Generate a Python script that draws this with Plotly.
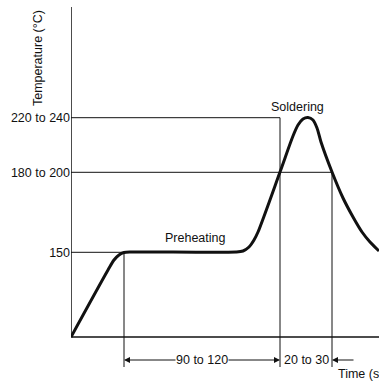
import plotly.graph_objects as go

# ---- data (schematic units: time axis / temperature axis) ----
curve_time = [0, 37, 43, 48, 53, 61, 165, 172, 178, 183, 187, 209, 222, 227, 232, 237,
              242, 246, 250, 261, 272, 282, 291, 299, 308]
curve_temp = [0, 67, 77, 82, 84.5, 85, 85, 86, 90, 97, 105, 165, 201, 212, 218, 219.5,
              217, 209, 195, 165, 139, 120, 105, 95, 86]

temp_levels = [84.7, 164.7, 219.3]
temp_labels = ["150", "180 to 200", "220 to 240"]

time_marks = [53, 209, 261]          # preheat start, soldering start, soldering end
line_ends = [53, 261, 209]           # where each temperature guide meets the curve
duration_labels = ["90 to 120", "20 to 30"]

BLACK = "#111111"
FONT = "Liberation Sans"
FS = 12.5

fig = go.Figure()
fig.add_trace(go.Scatter(
    x=curve_time, y=curve_temp, mode="lines",
    line=dict(color=BLACK, width=3, shape="spline", smoothing=0.8),
    hoverinfo="skip", showlegend=False))

shapes = []
# axes
shapes.append(dict(type="line", xref="x", yref="y", x0=0, x1=308, y0=0, y1=0,
                   line=dict(color=BLACK, width=1.5)))
shapes.append(dict(type="line", xref="x", yref="y", x0=0, x1=0, y0=0, y1=330,
                   line=dict(color=BLACK, width=1.5)))
# horizontal temperature guides
for lvl, xe in zip(temp_levels, line_ends):
    shapes.append(dict(type="line", xref="x", yref="y", x0=0, x1=xe, y0=lvl, y1=lvl,
                       line=dict(color=BLACK, width=1)))
# vertical time guides
vert_tops = [temp_levels[0], temp_levels[2], temp_levels[1]]
for tm, top in zip(time_marks, vert_tops):
    shapes.append(dict(type="line", xref="x", yref="y", x0=tm, x1=tm, y0=top, y1=-30,
                       line=dict(color=BLACK, width=1)))

ann = []
arrow_y = -23
mid1 = (time_marks[0] + time_marks[1]) / 2
# arrows for 90 to 120
for head in (time_marks[0], time_marks[1]):
    ann.append(dict(x=head, y=arrow_y, ax=mid1, ay=arrow_y, xref="x", yref="y",
                    axref="x", ayref="y", text="", showarrow=True, arrowhead=2,
                    arrowsize=1.2, arrowwidth=1, arrowcolor=BLACK, standoff=0))
ann.append(dict(x=mid1, y=arrow_y, xref="x", yref="y", text=duration_labels[0],
                showarrow=False, bgcolor="white", borderpad=0,
                font=dict(size=FS, color=BLACK, family=FONT)))
# 20 to 30
ann.append(dict(x=time_marks[2], y=arrow_y, ax=time_marks[2] + 23, ay=arrow_y,
                xref="x", yref="y", axref="x", ayref="y", text="", showarrow=True,
                arrowhead=2, arrowsize=1.2, arrowwidth=1, arrowcolor=BLACK, standoff=0))
ann.append(dict(x=(time_marks[1] + time_marks[2]) / 2 + 0.5, y=arrow_y, xref="x", yref="y",
                text=duration_labels[1], showarrow=False, bgcolor="white", borderpad=0,
                font=dict(size=FS, color=BLACK, family=FONT)))
# labels
ann.append(dict(x=265, y=-37, xref="x", yref="y", text="Time (s)", showarrow=False,
                xanchor="left", font=dict(size=FS, color=BLACK, family=FONT)))
ann.append(dict(x=226, y=230, xref="x", yref="y", text="Soldering", showarrow=False,
                font=dict(size=FS, color=BLACK, family=FONT)))
ann.append(dict(x=124, y=99, xref="x", yref="y", text="Preheating", showarrow=False,
                font=dict(size=FS, color=BLACK, family=FONT)))
ann.append(dict(x=-0.107, y=0.8636, xref="paper", yref="paper", text="Temperature (°C)",
                textangle=-90, showarrow=False, xanchor="center", yanchor="middle",
                font=dict(size=FS, color=BLACK, family=FONT)))

fig.update_layout(
    width=379, height=381,
    margin=dict(l=71, r=0, t=7, b=0, autoexpand=False),
    paper_bgcolor="white", plot_bgcolor="white",
    shapes=shapes, annotations=ann,
    xaxis=dict(range=[0, 308], visible=False, fixedrange=True),
    yaxis=dict(range=[-44, 330], showgrid=False, zeroline=False, showline=False,
               ticks="", tickvals=temp_levels, ticktext=temp_labels,
               tickfont=dict(size=FS, color=BLACK, family=FONT), fixedrange=True),
    font=dict(family=FONT, color=BLACK),
)

fig.write_html("out.html", config={"displayModeBar": False},
               post_script="document.body.style.margin='0';document.body.style.overflow='hidden';")
